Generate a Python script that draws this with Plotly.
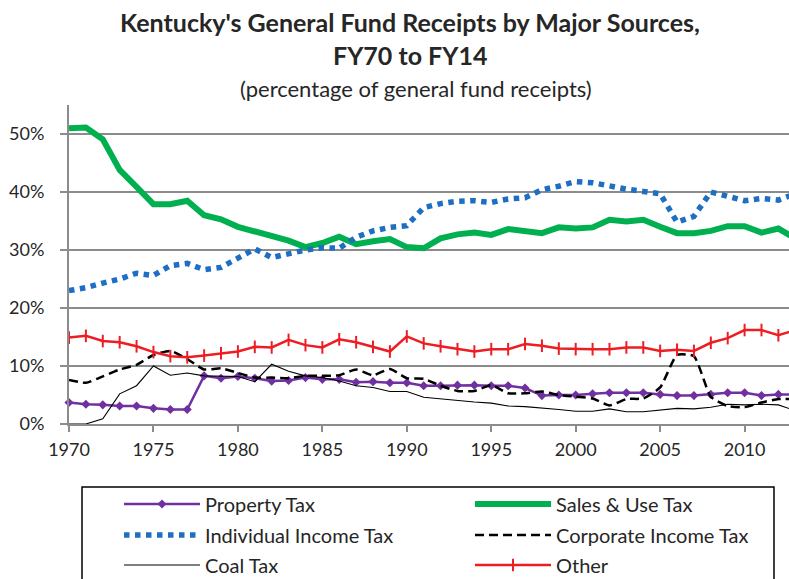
import plotly.graph_objects as go

years = list(range(1970, 2014))

property_tax = [3.7, 3.4, 3.3, 3.1, 3.1, 2.7, 2.5, 2.5, 8.3, 7.9,
                8.2, 7.9, 7.4, 7.5, 8.0, 7.7, 7.7, 7.2, 7.3, 7.1,
                7.1, 6.6, 6.6, 6.7, 6.7, 6.6, 6.6, 6.2, 4.9, 5.0,
                5.0, 5.2, 5.4, 5.4, 5.4, 5.1, 4.9, 4.9, 5.1, 5.4,
                5.4, 4.9, 5.1, 5.1]

sales_use_tax = [51.0, 51.1, 49.1, 43.8, 40.9, 37.9, 37.9, 38.5, 36.0, 35.3,
                 34.0, 33.2, 32.4, 31.6, 30.5, 31.2, 32.3, 31.0, 31.5, 31.9,
                 30.5, 30.3, 32.0, 32.7, 33.0, 32.6, 33.6, 33.3, 32.9, 33.9,
                 33.7, 33.9, 35.2, 34.9, 35.2, 34.0, 32.9, 32.9, 33.3, 34.1,
                 34.1, 33.0, 33.7, 32.0]

individual_income_tax = [23.0, 23.5, 24.3, 25.0, 26.0, 25.6, 27.3, 27.7, 26.6, 27.0,
                         28.6, 30.2, 28.7, 29.4, 30.0, 30.4, 30.3, 32.2, 33.3, 33.9,
                         34.2, 37.3, 38.0, 38.4, 38.5, 38.2, 38.8, 39.0, 40.4, 41.0,
                         41.8, 41.6, 41.0, 40.5, 40.1, 39.7, 34.8, 35.8, 40.0, 39.2,
                         38.5, 38.9, 38.6, 39.7]

corporate_income_tax = [7.6, 7.1, 8.2, 9.4, 10.2, 11.9, 12.6, 11.2, 9.4, 9.6,
                        8.8, 8.0, 8.0, 7.9, 8.3, 8.3, 8.4, 9.4, 8.4, 9.5,
                        7.9, 7.8, 6.6, 5.7, 5.7, 6.7, 5.3, 5.3, 5.6, 5.0,
                        4.7, 4.4, 3.2, 4.3, 4.4, 6.3, 11.9, 11.7, 4.7, 3.1,
                        2.9, 3.7, 4.3, 4.3]

coal_tax = [0.0, 0.0, 0.9, 5.2, 6.6, 10.0, 8.4, 8.8, 8.3, 8.2,
            8.2, 7.3, 10.3, 9.1, 8.3, 8.0, 7.4, 6.6, 6.3, 5.6,
            5.6, 4.6, 4.3, 4.1, 3.8, 3.6, 3.1, 3.0, 2.8, 2.5,
            2.2, 2.2, 2.6, 2.1, 2.1, 2.4, 2.7, 2.6, 2.9, 3.4,
            3.3, 3.4, 3.3, 2.3]

other = [14.9, 15.2, 14.3, 14.1, 13.4, 12.4, 11.7, 11.5, 11.8, 12.2,
         12.5, 13.3, 13.2, 14.5, 13.6, 13.2, 14.6, 14.1, 13.3, 12.5,
         15.1, 13.9, 13.4, 12.9, 12.5, 12.9, 12.9, 13.8, 13.5, 13.0,
         12.9, 12.9, 12.9, 13.2, 13.2, 12.6, 12.8, 12.6, 14.0, 14.8,
         16.2, 16.2, 15.3, 16.2]

y_ticks = [0, 10, 20, 30, 40, 50]
x_ticks = [1970, 1975, 1980, 1985, 1990, 1995, 2000, 2005, 2010]

FONT = "Lato"
TXT = "#262626"
W, H = 789, 579
ML, MR, MT, MB = 69, 0, 105, 155
PW = W - ML - MR
PH = H - MT - MB


def px_x(px):
    return (px - ML) / PW


def px_y(py):
    return (H - MB - py) / PH


fig = go.Figure()

fig.add_trace(go.Scatter(
    x=years, y=property_tax, name="Property Tax", mode="lines+markers",
    line=dict(color="#7030A0", width=2.5),
    marker=dict(symbol="diamond", size=7, color="#7030A0"),
    legend="legend", cliponaxis=False))
fig.add_trace(go.Scatter(
    x=years, y=sales_use_tax, name="Sales & Use Tax", mode="lines",
    line=dict(color="#00B050", width=6),
    legend="legend", cliponaxis=False))
fig.add_trace(go.Scatter(
    x=years, y=individual_income_tax, name="Individual Income Tax", mode="lines",
    line=dict(color="#1E6FC3", width=5.5, dash="5.5px,5.5px"),
    legend="legend2", cliponaxis=False))
fig.add_trace(go.Scatter(
    x=years, y=corporate_income_tax, name="Corporate Income Tax", mode="lines",
    line=dict(color="#000000", width=2.5, dash="9px,5px", shape="spline", smoothing=0.5),
    legend="legend2", cliponaxis=False))
fig.add_trace(go.Scatter(
    x=years, y=coal_tax, name="Coal Tax", mode="lines",
    line=dict(color="#000000", width=1.1),
    legend="legend3", cliponaxis=False))
fig.add_trace(go.Scatter(
    x=years, y=other, name="Other", mode="lines+markers",
    line=dict(color="#EE1D23", width=2.5),
    marker=dict(symbol="line-ns", size=9, color="#EE1D23",
                line=dict(color="#EE1D23", width=2)),
    legend="legend3", cliponaxis=False))

px_per_year = 16.89
x_end = 1970 + PW / px_per_year

fig.update_xaxes(
    range=[1970, x_end], tickmode="array", tickvals=x_ticks,
    ticktext=[str(v) for v in x_ticks],
    showgrid=False, zeroline=False,
    showline=True, linecolor="#8c8c8c", linewidth=2,
    ticks="outside", ticklen=6, tickwidth=2, tickcolor="#8c8c8c",
    ticklabelstandoff=2,
    tickfont=dict(family=FONT, size=18, color=TXT))
fig.update_yaxes(
    range=[0, 55], tickmode="array", tickvals=y_ticks,
    ticktext=[f"{v}%" for v in y_ticks],
    showgrid=True, gridcolor="#8c8c8c", gridwidth=2, zeroline=False,
    showline=True, linecolor="#8c8c8c", linewidth=2,
    ticks="outside", ticklen=7, tickwidth=2, tickcolor="#8c8c8c",
    ticklabelstandoff=12,
    tickfont=dict(family=FONT, size=18, color=TXT))


def row_legend(py):
    return dict(
        orientation="h", xref="container", yref="container",
        x=119 / W, y=1 - py / H, xanchor="left", yanchor="middle",
        entrywidth=260, entrywidthmode="pixels",
        itemwidth=76, traceorder="normal",
        font=dict(family=FONT, size=20, color=TXT),
        bgcolor="rgba(0,0,0,0)", borderwidth=0)


fig.update_layout(
    width=W, height=H,
    margin=dict(l=ML, r=MR, t=MT, b=MB, pad=0, autoexpand=False),
    paper_bgcolor="white", plot_bgcolor="white",
    font=dict(family=FONT, color=TXT),
    showlegend=True,
    legend=row_legend(504),
    legend2=row_legend(535),
    legend3=row_legend(565),
    annotations=[
        dict(text="<b>Kentucky's General Fund Receipts by Major Sources,</b>",
             xref="paper", yref="paper", x=px_x(410), y=px_y(22),
             xanchor="center", yanchor="middle", showarrow=False,
             font=dict(family=FONT, size=25, color=TXT)),
        dict(text="<b>FY70 to FY14</b>",
             xref="paper", yref="paper", x=px_x(410), y=px_y(55),
             xanchor="center", yanchor="middle", showarrow=False,
             font=dict(family=FONT, size=25, color=TXT)),
        dict(text="(percentage of general fund receipts)",
             xref="paper", yref="paper", x=px_x(416), y=px_y(88),
             xanchor="center", yanchor="middle", showarrow=False,
             font=dict(family=FONT, size=22, color=TXT)),
    ],
    shapes=[
        dict(type="rect", xref="paper", yref="paper",
             x0=px_x(82), x1=px_x(774), y0=px_y(487), y1=px_y(600),
             line=dict(color="#000000", width=1.5), fillcolor="rgba(0,0,0,0)"),
    ],
)

fig.write_html(
    "out.html",
    config={"displayModeBar": False},
    post_script="document.body.style.margin='0';document.body.style.overflow='hidden';",
)
